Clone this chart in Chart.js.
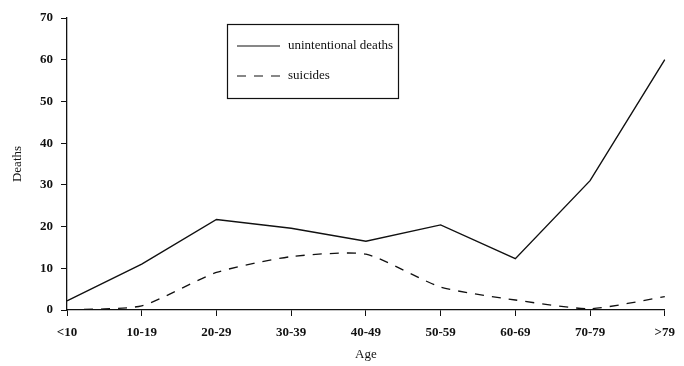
<!DOCTYPE html>
<html>
<head>
<meta charset="utf-8">
<script src="https://cdn.jsdelivr.net/npm/chart.js@4"></script>
<style>
  html, body { margin: 0; padding: 0; background: #fff; }
  #wrap { width: 684px; height: 366px; }
</style>
</head>
<body>
<div id="wrap"><canvas id="grafico" width="684" height="366"></canvas></div>
<script>
// Datos
const edades = ['<10', '10-19', '20-29', '30-39', '40-49', '50-59', '60-69', '70-79', '>79'];
const muertesAccidentales = [2.2, 11, 21.7, 19.6, 16.5, 20.4, 12.3, 31, 60];
const suicidios = [0, 1, 9, 12.8, 13.4, 5.5, 2.4, 0.3, 3.2];
const ticksY = [0, 10, 20, 30, 40, 50, 60, 70];

const fuente = 'Liberation Serif, Times New Roman, serif';

// Leyenda dibujada dentro del area del grafico
const leyendaCaja = {
    id: 'leyendaCaja',
    afterDraw(chart) {
        const ctx = chart.ctx;
        const x = 227, y = 24, w = 171, h = 74;
        ctx.save();
        ctx.strokeStyle = '#111';
        ctx.lineWidth = 1.2;
        ctx.strokeRect(x + 0.5, y + 0.5, w, h);
        chart.data.datasets.forEach(function(ds, i) {
            const ly = y + 22 + i * 30;
            ctx.beginPath();
            ctx.setLineDash(ds.borderDash || []);
            ctx.lineWidth = 1.2;
            ctx.moveTo(x + 10, ly);
            ctx.lineTo(x + 53, ly);
            ctx.stroke();
            ctx.setLineDash([]);
            ctx.fillStyle = '#111';
            ctx.font = '13px ' + fuente;
            ctx.textBaseline = 'middle';
            ctx.fillText(ds.label, x + 61, ly);
        });
        ctx.restore();
    }
};

const ctx = document.getElementById('grafico').getContext('2d');
new Chart(ctx, {
    type: 'line',
    data: {
        labels: edades,
        datasets: [
            { label: 'unintentional deaths', data: muertesAccidentales, borderColor: '#111', borderWidth: 1.4, pointRadius: 0, tension: 0, fill: false },
            { label: 'suicides', data: suicidios, borderColor: '#111', borderWidth: 1.3, borderDash: [9, 8], pointRadius: 0, tension: 0.2, fill: false }
        ]
    },
    options: {
        responsive: false,
        animation: false,
        layout: { padding: { top: 18, right: 14, left: 0, bottom: 0 } },
        plugins: { legend: { display: false }, tooltip: { enabled: false } },
        scales: {
            x: {
                offset: false,
                grid: { drawOnChartArea: false, color: '#111', tickLength: 6 },
                border: { color: '#111', width: 1.3 },
                ticks: { color: '#111', font: { family: fuente, size: 13, weight: 'bold' }, maxRotation: 0, padding: 9 },
                title: { display: true, text: 'Age', color: '#111', font: { family: fuente, size: 13 }, padding: { top: 5 } },
                afterFit(scale) { scale.height = 56; }
            },
            y: {
                min: 0,
                max: 70,
                afterBuildTicks(scale) { scale.ticks = ticksY.map(v => ({ value: v })); },
                grid: { drawOnChartArea: false, color: '#111', tickLength: 6 },
                border: { color: '#111', width: 1.3 },
                ticks: { color: '#111', font: { family: fuente, size: 13, weight: 'bold' }, padding: 8 },
                title: { display: true, text: 'Deaths', color: '#111', font: { family: fuente, size: 13 }, padding: { top: 10, bottom: 4 } },
                afterFit(scale) { scale.width = 67; }
            }
        }
    },
    plugins: [leyendaCaja]
});
</script>
</body>
</html>
